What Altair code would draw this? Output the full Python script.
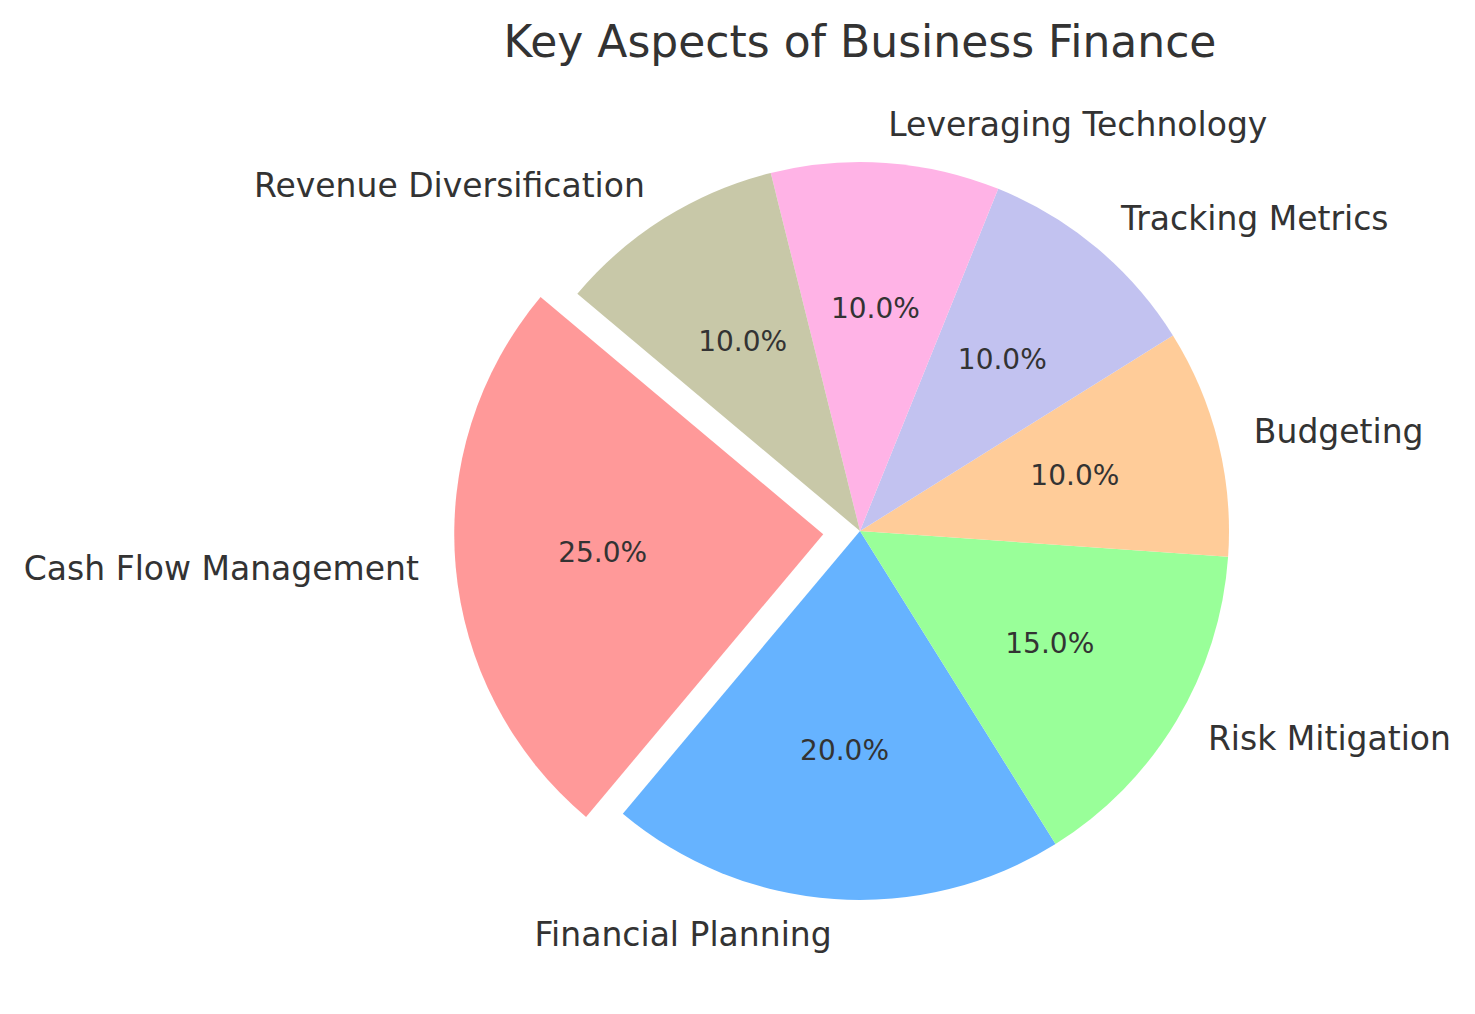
import math
import altair as alt
import pandas as pd

categories = ["Cash Flow Management", "Financial Planning", "Risk Mitigation",
              "Budgeting", "Tracking Metrics", "Leveraging Technology",
              "Revenue Diversification"]
values = [25, 20, 15, 10, 10, 10, 10]
colors = ["#ff9999", "#66b3ff", "#99ff99", "#ffcc99", "#c2c2f0", "#ffb3e6", "#c8c8a8"]
explode = [0.1, 0, 0, 0, 0, 0, 0]

START_DEG = 140  # matplotlib start angle, counter-clockwise
R = 369
W = H = 740
CX, CY = 860, 531
TEXT = "#333333"
FONT = "DejaVu Sans"

df = pd.DataFrame({"category": categories, "value": values,
                   "idx": list(range(len(categories))), "explode": explode})

total = sum(values)
# offset of exploded slice(s)
cum = 0
dxs, dys = [], []
for v, e in zip(values, explode):
    mid = math.radians(START_DEG + 360 * (cum + v / 2) / total)
    dxs.append(e * R * math.cos(mid))
    dys.append(-e * R * math.sin(mid))
    cum += v

a0 = math.radians(90 - START_DEG)
theta_scale = alt.Scale(domain=[0, 100], range=[a0, a0 - 2 * math.pi])
color_scale = alt.Scale(domain=categories, range=colors)

base = alt.Chart(df).transform_joinaggregate(
    tot="sum(value)"
).transform_window(
    cumv="sum(value)", sort=[alt.SortField("idx")], frame=[None, 0]
).transform_calculate(
    pend="datum.cumv / datum.tot * 100",
    pstart="(datum.cumv - datum.value) / datum.tot * 100",
    pmid="(datum.cumv - datum.value / 2) / datum.tot * 100",
    pct="format(datum.value / datum.tot * 100, '.1f') + '%'",
).transform_calculate(
    right="cos((%d + 3.6 * datum.pmid) * PI / 180) >= 0" % START_DEG
)

layers = []
for i, cat in enumerate(categories):
    sub = base.transform_filter(alt.datum.category == cat)
    dx, dy = dxs[i], dys[i]
    arc = sub.mark_arc(radius=R, xOffset=dx, yOffset=dy).encode(
        theta=alt.Theta("pstart:Q", scale=theta_scale),
        theta2="pend:Q",
        color=alt.Color("category:N", scale=color_scale, legend=None),
    )
    pct = sub.mark_text(radius=0.6 * R, xOffset=dx, yOffset=dy, font=FONT,
                        fontSize=28, color=TEXT, align="center",
                        baseline="middle").encode(
        theta=alt.Theta("pmid:Q", scale=theta_scale),
        text="pct:N",
    )
    lab_r = sub.transform_filter("datum.right").mark_text(
        radius=1.1 * R, xOffset=dx, yOffset=dy, font=FONT, fontSize=33,
        color=TEXT, align="left", baseline="middle").encode(
        theta=alt.Theta("pmid:Q", scale=theta_scale),
        text="category:N",
    )
    lab_l = sub.transform_filter("!datum.right").mark_text(
        radius=1.1 * R, xOffset=dx, yOffset=dy, font=FONT, fontSize=33,
        color=TEXT, align="right", baseline="middle").encode(
        theta=alt.Theta("pmid:Q", scale=theta_scale),
        text="category:N",
    )
    layers += [arc, pct, lab_r, lab_l]

pad_left = CX - 8 - W // 2
pad_top = CY - 8 - H // 2
chart = alt.layer(*layers).properties(
    width=W, height=H,
    title=alt.TitleParams("Key Aspects of Business Finance", font=FONT,
                          fontSize=44, fontWeight="normal", color=TEXT,
                          anchor="middle", baseline="alphabetic", offset=9),
    autosize=alt.AutoSizeParams(type="none"),
    padding={"left": pad_left, "top": pad_top,
             "right": 1459 - pad_left - W, "bottom": 998 - pad_top - H},
).configure_view(stroke=None).configure(background="white")

chart.save("out.html", embed_options={"renderer": "svg", "actions": False})
